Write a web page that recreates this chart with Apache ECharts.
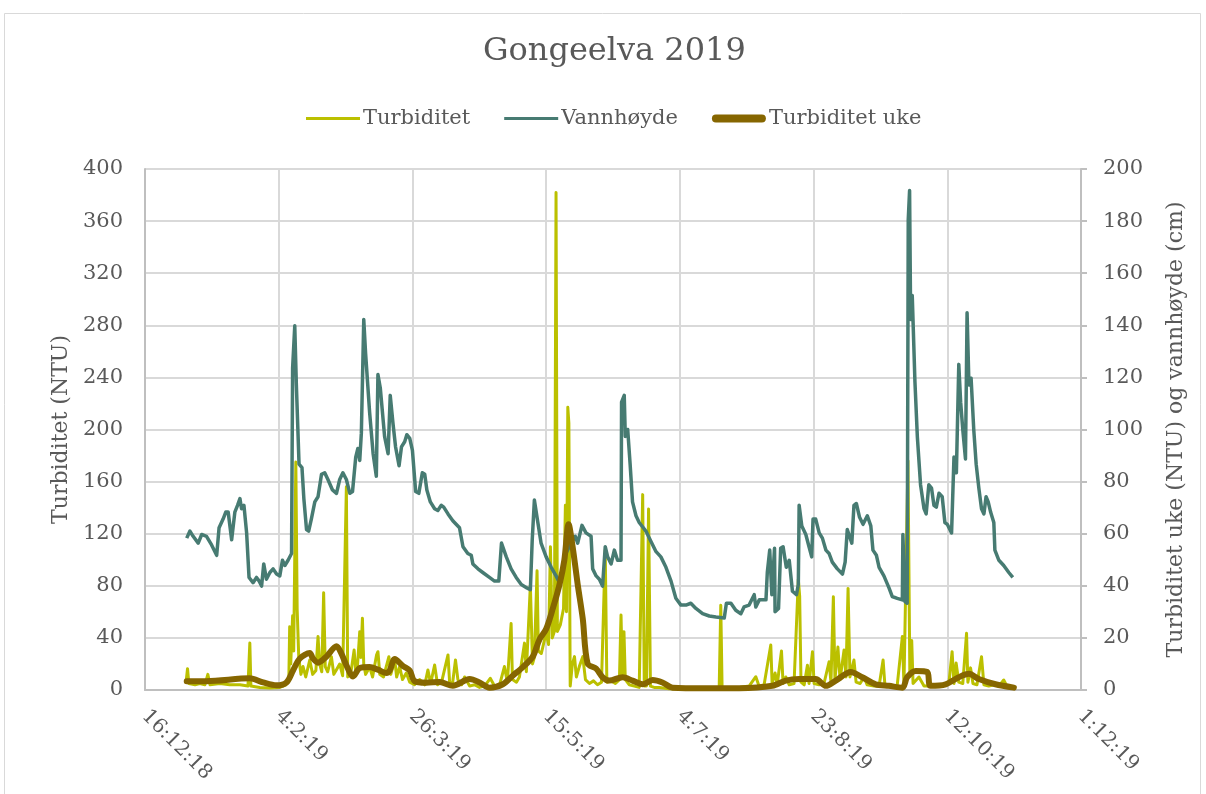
<!DOCTYPE html>
<html>
<head>
<meta charset="utf-8">
<script src="https://cdn.jsdelivr.net/npm/echarts@6/dist/echarts.min.js"></script>
<style>
  html, body { margin: 0; padding: 0; background: #fff; }
  #chart { width: 1206px; height: 794px; }
</style>
</head>
<body>
<div id="chart"></div>
<script>
// Dager regnet fra 16.12.2018 (dag 0)
const startDato = Date.UTC(2018, 11, 16);

// Turbiditet (NTU), venstre akse
const turbDag = [
  15.3, 15.9, 16.4, 18.7, 20.5, 22.4, 23.5, 24.3, 28.0, 31.7, 35.5, 38.5, 39.2, 39.6, 42.9, 46.7,
  50.4, 52.7, 53.8, 54.1, 54.5, 55.2, 55.6, 56.4, 56.9, 57.5, 58.3, 59.1, 60.1, 61.6, 62.7, 63.9,
  64.7, 65.3, 66.1, 66.8, 67.4, 68.3, 69.7, 70.6, 71.7, 72.8, 73.9, 75.3, 75.8, 76.9, 78.2, 78.8,
  79.5, 80.3, 80.7, 81.3, 81.8, 82.5, 84.0, 85.1, 86.6, 87.1, 87.8, 89.2, 91.2, 91.9, 93.4, 94.1,
  95.2, 96.3, 97.7, 99.0, 100.8, 102.7, 104.6, 105.8, 106.8, 108.3, 109.4, 110.9, 113.3, 113.9, 115.0, 116.1,
  117.0, 118.4, 119.5, 121.4, 123.2, 125.1, 127.0, 129.1, 130.7, 132.6, 134.4, 135.5, 136.9, 137.4, 138.9, 140.0,
  141.9, 142.6, 144.1, 144.9, 145.6, 146.6, 147.1, 148.2, 150.0, 150.9, 151.6, 152.3, 153.1, 153.7, 154.2, 155.3,
  156.5, 157.2, 157.6, 158.1, 158.5, 159.0, 159.8, 160.6, 161.3, 162.4, 163.7, 164.7, 166.2, 167.7, 169.2, 170.7,
  172.1, 172.7, 174.4, 175.9, 177.4, 178.0, 178.5, 179.1, 179.6, 181.1, 183.0, 184.8, 186.1, 186.7, 187.5, 188.3,
  189.0, 190.4, 192.3, 196.0, 199.8, 203.5, 207.2, 211.0, 214.7, 215.3, 215.8, 218.4, 222.2, 225.9, 228.4, 229.6,
  231.5, 234.0, 234.5, 235.6, 236.4, 238.0, 238.6, 239.6, 240.9, 242.7, 244.3, 244.8, 245.3, 246.5, 247.7, 248.3,
  249.6, 250.2, 252.1, 253.9, 255.8, 256.5, 257.4, 258.0, 259.1, 259.9, 261.4, 262.1, 262.9, 263.6, 265.1, 265.9,
  267.4, 268.9, 270.0, 272.6, 274.5, 276.0, 276.7, 279.3, 281.2, 283.2, 283.8, 285.3, 286.0, 286.7, 287.2, 289.4,
  291.3, 295.0, 298.7, 300.6, 301.8, 302.5, 303.3, 304.3, 305.8, 307.2, 307.7, 308.7, 309.6, 311.1, 312.8, 313.7,
  315.5, 317.4, 319.3, 321.1, 322.3, 324.9
];
const turbNTU = [
  5, 16.4, 5, 4, 5, 4, 12, 4, 5, 4, 4, 3, 36, 3, 2, 1.5,
  2, 4, 10, 48.6, 20, 57, 30, 175, 62, 25, 12, 18, 10, 23, 12, 15,
  41, 20, 14, 74.7, 18, 14, 25.6, 12, 16, 20, 11, 156, 10, 12, 30.7, 14,
  20, 44.8, 25, 55, 20, 12, 17.7, 10, 27, 29.4, 12, 10, 25.6, 12, 23, 10,
  17.9, 8, 13, 6, 4, 8, 4, 15.4, 5, 19.2, 4, 6, 26.9, 6, 5, 23,
  8, 4, 10, 3, 4, 2, 3, 9, 3, 4, 18, 6, 51, 8, 6, 10,
  36, 14, 80.6, 20, 25, 91.6, 30, 28, 44, 35, 110, 40, 45, 382, 45, 50,
  62.6, 141.8, 60, 217, 205, 3, 20, 25.6, 10, 18, 25.6, 8, 5, 7, 4, 6,
  107.5, 6, 7, 5, 8, 57.6, 10, 44.8, 8, 4, 3, 2, 150, 3, 3, 139,
  3, 2, 2, 1, 1, 1, 2, 1, 1, 65, 1, 1, 2, 3, 10.2, 3,
  4, 34.5, 5, 13, 4, 30, 5, 10, 4, 5, 85, 72, 6, 4, 19, 5,
  29.4, 5, 4, 5, 21.7, 6, 71.6, 8, 33, 8, 30.7, 10, 78, 10, 23, 6,
  5, 10, 4, 3, 3, 23, 3, 2, 2, 41, 4, 176, 12, 38, 5, 10,
  3, 3, 4, 5, 29.4, 5, 20.7, 6, 5, 43.5, 6, 17, 5, 4, 25.6, 4,
  3, 4, 3, 7.7, 3, 2
];

// Vannhøyde (cm), høyre akse
const vannDag = [
  15.6, 16.8, 18.0, 19.9, 21.2, 23.0, 24.9, 26.8, 27.7, 29.2, 30.2, 31.1, 32.4, 33.6, 34.6, 35.5,
  36.1, 37.0, 38.0, 38.9, 40.4, 41.7, 42.7, 43.6, 44.4, 45.4, 46.7, 47.9, 49.2, 50.4, 51.4, 52.3,
  53.5, 54.8, 55.2, 56.0, 56.6, 57.6, 58.7, 59.4, 60.4, 61.2, 62.2, 63.5, 64.7, 66.0, 67.2, 68.4,
  70.1, 71.6, 72.8, 74.0, 75.3, 76.6, 77.6, 78.8, 79.6, 80.3, 80.9, 81.8, 82.5, 84.0, 85.3, 86.5,
  87.1, 88.0, 89.6, 90.9, 91.7, 92.7, 93.7, 95.0, 95.9, 97.1, 97.9, 99.0, 100.0, 100.4, 101.2, 102.4,
  103.7, 104.6, 105.4, 106.7, 108.3, 109.5, 110.8, 111.7, 113.3, 115.1, 117.6, 118.9, 120.7, 122.0, 122.6, 124.5,
  126.3, 128.8, 130.7, 132.3, 133.3, 135.1, 136.9, 138.8, 140.7, 142.8, 144.1, 144.8, 145.6, 146.9, 148.1, 150.0,
  151.9, 153.7, 155.0, 157.2, 159.3, 160.9, 161.8, 163.4, 164.9, 166.8, 167.4, 168.7, 169.9, 171.1, 172.1, 173.0,
  174.3, 175.5, 176.7, 178.0, 178.2, 179.2, 179.6, 180.5, 181.4, 182.3, 183.6, 184.8, 187.3, 189.2, 191.1, 192.9,
  194.8, 196.7, 198.5, 200.4, 202.3, 204.1, 206.0, 208.5, 211.0, 213.5, 216.6, 217.4, 219.1, 220.9, 222.8, 224.0,
  225.9, 227.8, 228.4, 229.7, 232.2, 232.7, 233.6, 234.4, 235.4, 235.6, 236.9, 237.7, 238.6, 239.8, 240.9, 242.1,
  243.6, 244.3, 244.6, 245.6, 247.1, 248.3, 249.3, 249.8, 250.8, 252.1, 253.3, 254.6, 255.8, 257.0, 258.9, 260.8,
  261.8, 262.6, 264.3, 265.1, 266.0, 267.2, 268.5, 270.1, 271.4, 272.2, 273.5, 274.5, 276.3, 278.2, 279.4, 281.3,
  283.2, 283.4, 284.2, 285.0, 285.4, 285.9, 286.3, 286.9, 287.9, 288.8, 290.0, 291.3, 292.1, 293.1, 294.1, 295.0,
  295.9, 296.9, 298.1, 299.1, 300.0, 301.6, 302.5, 303.4, 304.3, 305.0, 305.8, 306.8, 307.4, 308.1, 308.9, 309.9,
  310.8, 311.8, 312.8, 313.7, 314.5, 315.3, 316.2, 317.4, 317.8, 319.3, 321.1, 323.0, 324.5
];
const vannCm = [
  58.3, 61, 59, 56.4, 59.7, 59, 55.7, 51.7, 62.3, 65.6, 68.3, 68.3, 57.7, 68.3, 70.9, 73.5,
  69.6, 70.9, 60.3, 43.2, 41.2, 43.2, 41.8, 39.9, 48.4, 42.5, 45.1, 46.5, 44.5, 43.8, 49.8, 47.8,
  49.8, 52.4, 123.7, 139.8, 117.1, 86.7, 85.4, 73.5, 61.6, 61, 65.6, 72.2, 74.2, 82.8, 83.4, 80.8,
  76.8, 75.5, 80.8, 83.4, 80.8, 75.5, 76.2, 89.4, 92.7, 88.1, 98.6, 142.2, 129, 106.5, 90.7, 82.1,
  121.1, 115.8, 97.3, 90.7, 113.1, 102.6, 93.3, 86.1, 93.3, 95.3, 98, 96.6, 92, 91.4, 76.2, 75.5,
  83.4, 82.8, 76.8, 72.2, 69.6, 68.9, 70.9, 70.2, 67.6, 65, 62.3, 55, 52.4, 51.7, 48.4, 46.5,
  45.1, 43.2, 41.8, 41.8, 56.4, 51.1, 46.5, 43.2, 40.5, 39.2, 38.5, 57.7, 72.9, 64.3, 56.4, 51.1,
  47.1, 43.8, 41.2, 52, 56.4, 59, 56.4, 63.2, 60.3, 59, 46.5, 43.8, 42.5, 39.9, 55, 51.1,
  48.4, 53.7, 49.8, 49.8, 110.5, 113.1, 97.3, 100, 86.7, 72.2, 66.9, 64.3, 61, 57, 53.1, 51.1,
  47.1, 41.8, 35.2, 32.6, 32.6, 33.3, 31.3, 29.3, 28.4, 28, 27.6, 33.3, 33.3, 30.6, 29.3, 31.9,
  32.6, 36.6, 31.9, 34.6, 34.6, 45.1, 53.7, 36.6, 54.4, 30, 31.3, 54.4, 55, 47.1, 49.8, 37.9,
  36.6, 40.5, 70.9, 63, 59.7, 55, 51.1, 65.6, 65.6, 60.3, 58.3, 53.7, 52.4, 49.1, 46.5, 44.5,
  49.1, 61.6, 56.4, 70.9, 71.6, 66.3, 63.6, 66.9, 63, 53.7, 51.7, 47.1, 43.8, 39.2, 35.9, 35.2,
  34.6, 59.7, 33.9, 33.3, 180.5, 191.7, 142.2, 151.4, 118.4, 97.3, 78.8, 69.6, 67.6, 78.8, 77.5, 70.9,
  70.2, 75.5, 74.2, 64.3, 63.6, 60.3, 89.4, 83.4, 125, 110.5, 99.9, 88.7, 144.8, 117.1, 119.7, 99.9,
  86.7, 77.5, 69.6, 67.6, 74.2, 72.2, 68.3, 64.3, 53.7, 49.8, 47.8, 45.1, 43.2
];

// Turbiditet uke (NTU), høyre akse
const ukeDag = [
  15.6, 23.0, 39.2, 44.2, 49.2, 52.9, 55.4, 57.9, 61.6, 62.8, 64.7, 67.8, 71.6, 73.4, 75.3, 77.8,
  80.3, 84.0, 87.1, 90.3, 91.5, 93.4, 96.5, 99.0, 100.8, 105.2, 110.2, 115.1, 121.4, 125.1, 128.8, 133.8,
  137.5, 141.3, 145.0, 147.5, 150.0, 152.5, 155.0, 156.8, 158.4, 159.9, 161.8, 163.7, 165.5, 168.7, 171.1, 173.6,
  178.6, 182.3, 186.1, 189.8, 193.5, 197.3, 209.7, 222.2, 234.6, 239.6, 244.6, 250.8, 254.6, 258.3, 263.9, 268.2,
  273.2, 278.2, 283.2, 285.0, 288.2, 292.5, 293.7, 299.4, 304.3, 308.1, 311.8, 318.0, 324.9
];
const ukeNTU = [
  3.4, 3.4, 4.5, 2.9, 1.8, 2.9, 7.6, 12.1, 14.2, 12.1, 10.5, 12.8, 16.8, 14.1, 9.5, 5.2,
  8.4, 8.8, 7.8, 6.5, 7.5, 11.9, 9.2, 7.5, 3.4, 2.8, 3.1, 1.6, 4.2, 2.9, 0.9, 2.2,
  5.5, 8.8, 12.8, 19.4, 23.4, 31.3, 40.5, 49.8, 63.6, 55, 40.5, 27.3, 10.2, 8.2, 4.9, 3.6,
  4.9, 3.6, 2.2, 3.8, 2.9, 0.9, 0.7, 0.7, 1.6, 3.6, 4.2, 4.2, 1.6, 3.6, 6.9, 4.9,
  2.2, 1.6, 0.9, 4.9, 7.3, 6.9, 1.6, 2.2, 4.9, 6.2, 4.2, 2.2, 0.9
];

// Akseoppsett
const venstreMaks = 400, venstreSteg = 40;
const hoyreMaks = 200, hoyreSteg = 20;
const xMaks = 350, xSteg = 50;

const tekstFarge = '#595959';
const font = '"DejaVu Serif", "Liberation Serif", serif';

const farger = { turb: '#bbc000', vann: '#477b72', uke: '#866600' };

// Forklaringssymboler: tynn strek og tykk avrundet strek
const tynnStrek = 'path://M0,0 M54,14 M0,5.5 L54,5.5 L54,8.5 L0,8.5 Z';
const tykkStrek = 'path://M0,0 M54,14 M4,3 L50,3 A4,4 0 0 1 50,11 L4,11 A4,4 0 0 1 4,3 Z';

function dagTilDato(v) {
  const d = new Date(startDato + v * 86400000);
  return d.getUTCDate() + ':' + (d.getUTCMonth() + 1) + ':' + String(d.getUTCFullYear()).slice(2);
}

function par(xs, ys) { return xs.map((x, i) => [x, ys[i]]); }

const chart = echarts.init(document.getElementById('chart'));
chart.setOption({
  animation: false,
  backgroundColor: '#fff',
  textStyle: { fontFamily: font, color: tekstFarge },
  graphic: [{
    type: 'rect', silent: true, z: -10,
    shape: { x: 4.5, y: 13.5, width: 1196, height: 800 },
    style: { fill: 'none', stroke: '#d9d9d9', lineWidth: 1 }
  }],
  title: {
    text: 'Gongeelva 2019',
    left: 483, top: 36, padding: 0,
    textStyle: { fontFamily: font, fontSize: 32, fontWeight: 'normal', color: tekstFarge }
  },
  legend: {
    top: 103, left: 301,
    itemWidth: 54, itemHeight: 14, itemGap: 34,
    textStyle: { fontFamily: font, fontSize: 21, color: tekstFarge, padding: [0, 0, 0, -2] },
    data: [
      { name: 'Turbiditet', icon: tynnStrek, itemStyle: { color: farger.turb } },
      { name: 'Vannhøyde', icon: tynnStrek, itemStyle: { color: farger.vann } },
      { name: 'Turbiditet uke', icon: tykkStrek, itemStyle: { color: farger.uke } }
    ]
  },
  grid: { left: 145, right: 125, top: 169, bottom: 104 },
  xAxis: {
    type: 'value', min: 0, max: xMaks, interval: xSteg,
    axisLine: { show: true, lineStyle: { color: '#bfbfbf', width: 2 } },
    axisTick: { show: false },
    splitLine: { show: true, lineStyle: { color: '#d9d9d9', width: 2 } },
    axisLabel: {
      rotate: -45, margin: 23, fontSize: 20, color: tekstFarge, fontFamily: font,
      formatter: dagTilDato
    }
  },
  yAxis: [{
    type: 'value', min: 0, max: venstreMaks, interval: venstreSteg,
    name: 'Turbiditet (NTU)', nameLocation: 'middle', nameGap: 72,
    nameTextStyle: { fontFamily: font, fontSize: 22, color: tekstFarge },
    axisLine: { show: true, lineStyle: { color: '#bfbfbf', width: 2 } },
    axisTick: { show: false },
    splitLine: { show: true, lineStyle: { color: '#d9d9d9', width: 2 } },
    axisLabel: { margin: 22, fontSize: 21, color: tekstFarge, fontFamily: font }
  }, {
    type: 'value', min: 0, max: hoyreMaks, interval: hoyreSteg,
    name: 'Turbiditet uke (NTU) og vannhøyde (cm)', nameLocation: 'middle', nameGap: 84,
    nameTextStyle: { fontFamily: font, fontSize: 22, color: tekstFarge },
    axisLine: { show: true, lineStyle: { color: '#bfbfbf', width: 2 } },
    axisTick: { show: true, length: 6, lineStyle: { color: '#bfbfbf', width: 2 } },
    splitLine: { show: false },
    axisLabel: { margin: 22, fontSize: 21, color: tekstFarge, fontFamily: font }
  }],
  series: [{
    name: 'Turbiditet', type: 'line', yAxisIndex: 0,
    data: par(turbDag, turbNTU),
    showSymbol: false, symbol: 'none',
    lineStyle: { color: farger.turb, width: 3, join: 'round' },
    itemStyle: { color: farger.turb },
    z: 2
  }, {
    name: 'Vannhøyde', type: 'line', yAxisIndex: 1,
    data: par(vannDag, vannCm),
    showSymbol: false, symbol: 'none',
    lineStyle: { color: farger.vann, width: 3.5, join: 'round' },
    itemStyle: { color: farger.vann },
    z: 3
  }, {
    name: 'Turbiditet uke', type: 'line', yAxisIndex: 1,
    data: par(ukeDag, ukeNTU),
    showSymbol: false, symbol: 'none', smooth: 0.3,
    lineStyle: { color: farger.uke, width: 6, join: 'round', cap: 'round' },
    itemStyle: { color: farger.uke },
    z: 4
  }]
});
</script>
</body>
</html>
